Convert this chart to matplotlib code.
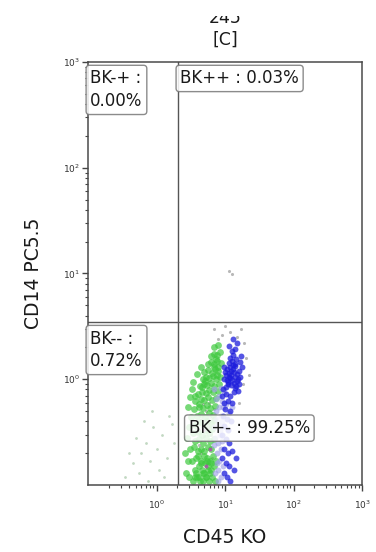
import numpy as np
import matplotlib
matplotlib.use('Agg')
import matplotlib.pyplot as plt
from matplotlib.ticker import LogLocator, NullFormatter
from matplotlib.patches import Rectangle

# titulo y ejes
TITULO = '245'
SUBTITULO = '[C]'
EJE_X = 'CD45 KO'
EJE_Y = 'CD14 PC5.5'
ticks = [1, 10, 100, 1000]
tick_labels = ['$10^{0}$', '$10^{1}$', '$10^{2}$', '$10^{3}$']

# limites de cuadrantes
corte_x = 2.05
corte_y = 3.5

# etiquetas de cuadrantes
etiquetas = ['BK-+ :\n0.00%', 'BK++ : 0.03%', 'BK-- :\n0.72%', 'BK+- : 99.25%']

# poblacion verde
green_x = [3.4, 3.9, 4.3, 4.8, 5.3, 5.9, 6.5, 7.1, 3.6, 4.1, 4.6, 5.1, 5.6, 6.2, 6.8,
           3.3, 3.8, 4.4, 4.9, 5.4, 6.0, 6.6, 7.3, 4.0, 4.5, 5.0, 5.7, 6.3, 3.5,
           3.7, 4.2, 4.8, 5.3, 6.0, 6.9, 3.4, 4.0, 4.6, 5.2, 5.8, 6.5,
           3.6, 4.3, 4.9, 5.5, 6.2, 7.0, 3.9, 4.5, 5.1, 5.8, 6.6,
           3.5, 4.2, 4.8, 5.4, 6.1, 7.2, 3.7, 4.4, 5.0, 5.7, 6.4, 7.5,
           4.0, 4.6, 5.2, 5.9, 6.7, 7.8, 4.3, 4.9, 5.5, 6.2, 7.0, 8.1,
           4.7, 5.3, 5.9, 6.6, 7.4, 8.4, 5.0, 5.7, 6.4, 7.1, 7.9,
           5.6, 6.3, 7.0, 7.7, 8.6, 6.2, 6.9, 7.6, 8.4, 7.0, 7.8,
           4.2, 5.0, 5.6, 4.5, 5.2, 3.8, 6.0, 4.7, 5.5, 3.6, 6.3, 4.0,
           2.7, 2.9, 3.1, 2.8, 3.0, 3.2, 2.6, 2.9, 3.1, 3.3, 3.0, 3.4,
           3.9, 4.4, 3.7, 4.1, 4.6, 5.1, 6.8, 7.4, 8.0, 7.6]
green_y = [0.11, 0.12, 0.11, 0.13, 0.12, 0.11, 0.12, 0.11, 0.14, 0.15, 0.14, 0.16, 0.15, 0.14, 0.15,
           0.17, 0.18, 0.17, 0.19, 0.18, 0.17, 0.19, 0.17, 0.21, 0.22, 0.21, 0.23, 0.22, 0.23,
           0.26, 0.27, 0.25, 0.28, 0.26, 0.27, 0.31, 0.32, 0.30, 0.33, 0.31, 0.34,
           0.37, 0.39, 0.36, 0.40, 0.38, 0.41, 0.45, 0.47, 0.44, 0.48, 0.46,
           0.52, 0.55, 0.53, 0.57, 0.54, 0.56, 0.62, 0.65, 0.63, 0.68, 0.64, 0.66,
           0.73, 0.76, 0.74, 0.79, 0.75, 0.78, 0.86, 0.90, 0.88, 0.93, 0.87, 0.91,
           1.00, 1.05, 1.02, 1.08, 1.00, 1.04, 1.18, 1.22, 1.15, 1.25, 1.20,
           1.38, 1.45, 1.40, 1.50, 1.42, 1.65, 1.75, 1.70, 1.80, 2.00, 2.10,
           0.12, 0.13, 0.14, 0.16, 0.12, 0.13, 0.13, 0.11, 0.17, 0.12, 0.16, 0.19,
           0.13, 0.17, 0.22, 0.28, 0.35, 0.44, 0.20, 0.55, 0.68, 0.80, 0.12, 0.95,
           1.12, 1.30, 0.70, 0.58, 0.84, 0.96, 1.30, 1.55, 1.30, 1.10]

# poblacion azul
blue_x = [10.2, 11.0, 12.1, 13.3, 14.5, 10.6, 11.7, 12.8, 14.0, 15.2, 10.3, 11.3, 12.4, 13.6, 14.8,
          10.8, 11.9, 13.0, 14.2, 11.4, 12.6, 13.8, 12.0, 13.2, 14.6, 9.5, 9.2, 9.8, 15.8, 16.5,
          12.5, 14.0, 11.5, 15.0, 13.0,
          9.0, 10.5, 12.0, 13.5, 9.6, 11.2, 12.8, 10.0, 11.8, 9.3, 10.8, 12.3, 9.7, 11.0,
          9.1, 10.4, 11.6, 9.5, 10.9, 12.5, 9.0, 10.2, 11.4, 9.6, 10.8, 12.0, 13.5, 14.5,
          16.8, 17.5, 16.0, 15.5, 17.0, 10.9, 12.2, 11.6, 13.1, 10.0, 14.1, 15.6]
blue_y = [0.85, 0.90, 0.88, 0.92, 0.86, 0.98, 1.02, 0.99, 1.05, 0.97, 1.10, 1.14, 1.10, 1.17, 1.12,
          1.25, 1.30, 1.24, 1.32, 1.42, 1.48, 1.40, 1.60, 1.68, 1.55, 1.00, 0.80, 1.30, 1.20, 1.45,
          1.85, 1.95, 2.05, 2.20, 2.40,
          0.70, 0.72, 0.70, 0.75, 0.60, 0.62, 0.60, 0.52, 0.50, 0.45, 0.42, 0.40, 0.36, 0.33,
          0.30, 0.27, 0.25, 0.22, 0.20, 0.21, 0.18, 0.16, 0.15, 0.13, 0.12, 0.11, 0.14, 0.18,
          1.05, 1.30, 0.90, 0.78, 1.65, 0.95, 1.20, 1.05, 1.35, 1.18, 0.82, 1.00]

# poblacion lavanda (mezcla)
lav_x = [7.5, 8.2, 8.8, 7.8, 8.5, 9.0, 7.2, 8.0, 8.7, 7.6, 8.3, 9.2, 7.9, 8.6,
         7.4, 8.1, 8.9, 9.4, 7.0, 8.6, 9.5, 6.8, 7.3, 6.9,
         8.0, 8.4, 7.7, 9.1, 7.1, 8.8, 10.5, 11.5, 12.5]
lav_y = [0.50, 0.55, 0.45, 0.38, 0.33, 0.40, 0.28, 0.25, 0.22, 0.20, 0.17, 0.15, 0.14, 0.12,
         0.65, 0.70, 0.62, 0.55, 0.80, 0.82, 0.75, 0.35, 0.42, 0.24,
         0.11, 0.30, 0.16, 0.26, 0.13, 0.36, 0.58, 0.48, 0.55]

# puntos grises
gray_x = [4.1, 5.0, 5.6, 4.4, 6.0, 5.3, 4.7, 6.3, 3.8, 5.8, 6.8, 4.5, 5.5, 6.4,
          9.0, 12.0, 15.0, 17.0, 10.0, 19.0, 8.0, 20.0, 18.0, 22.0, 16.0, 7.0, 11.5, 12.5]
gray_y = [0.24, 0.29, 0.35, 0.42, 0.44, 0.50, 0.58, 0.30, 0.34, 0.60, 0.52, 0.20, 0.16, 0.18,
          2.6, 2.8, 2.5, 3.0, 3.2, 2.2, 2.4, 1.6, 0.9, 1.1, 0.6, 3.0, 10.5, 9.8]

purple_x = [5.2, 4.8, 6.1]
purple_y = [0.15, 0.33, 0.22]

# dispersos a la izquierda
left_x = [0.35, 0.45, 0.55, 0.6, 0.7, 0.5, 0.8, 0.9, 1.0, 1.2, 1.4, 0.65, 1.5, 1.1,
          1.8, 0.4, 0.75, 1.3, 1.7, 0.85]
left_y = [0.12, 0.16, 0.13, 0.20, 0.25, 0.28, 0.17, 0.35, 0.22, 0.30, 0.18, 0.40, 0.45, 0.14,
          0.25, 0.20, 0.11, 0.12, 0.38, 0.50]

fig = plt.figure(figsize=(3.76, 5.52), dpi=100)
ax = fig.add_axes([0.234, 0.1214, 0.729, 0.7663])
ax.set_xscale('log')
ax.set_yscale('log')
ax.set_xlim(0.1, 1000)
ax.set_ylim(0.1, 1000)

ax.scatter(left_x, left_y, s=4, color='#a8c8a8', alpha=0.7, linewidths=0)
ax.scatter(gray_x, gray_y, s=5, color='#9a9a9a', alpha=0.7, linewidths=0)
ax.scatter(green_x, green_y, s=24, color='#3ec93e', alpha=0.7, linewidths=0)
ax.scatter(lav_x, lav_y, s=18, color='#9fa0e6', alpha=0.65, linewidths=0)
ax.scatter(blue_x, blue_y, s=18, color='#1c1cdc', alpha=0.75, linewidths=0)
ax.scatter(purple_x, purple_y, s=8, color='#b04ab0', alpha=0.8, linewidths=0)

# cuadrantes
ax.axvline(corte_x, color='#555555', lw=1.0)
ax.axhline(corte_y, color='#555555', lw=1.0)

caja = dict(boxstyle='round,pad=0.25,rounding_size=0.2', facecolor='white',
            edgecolor='#777777', alpha=0.85, lw=1.0)
ax.text(0.108, 850, etiquetas[0], fontsize=12, color='#1a1a1a', va='top', ha='left',
        linespacing=1.35, bbox=caja)
ax.text(2.22, 850, etiquetas[1], fontsize=12, color='#1a1a1a', va='top', ha='left', bbox=caja)
ax.text(0.108, 2.95, etiquetas[2], fontsize=12, color='#1a1a1a', va='top', ha='left',
        linespacing=1.35, bbox=caja)
ax.text(2.95, 0.345, etiquetas[3], fontsize=12, color='#1a1a1a', va='center', ha='left', bbox=caja)

ax.set_xticks(ticks)
ax.set_xticklabels(tick_labels)
ax.set_yticks(ticks)
ax.set_yticklabels(tick_labels)
ax.xaxis.set_minor_locator(LogLocator(base=10, subs=np.arange(2, 10), numticks=20))
ax.yaxis.set_minor_locator(LogLocator(base=10, subs=np.arange(2, 10), numticks=20))
ax.xaxis.set_minor_formatter(NullFormatter())
ax.yaxis.set_minor_formatter(NullFormatter())
ax.tick_params(which='major', direction='out', length=4, width=1, color='#444444',
               labelsize=6.5, labelcolor='#333333')
ax.tick_params(which='minor', direction='out', length=2.5, width=0.8, color='#444444')
ax.tick_params(axis='x', which='major', pad=6)
ax.tick_params(axis='y', which='major', pad=2)
for sp in ax.spines.values():
    sp.set_color('#4a4a4a')
    sp.set_linewidth(1.1)

fig.text(0.5985, 0.027, EJE_X, fontsize=13.5, color='#1a1a1a', ha='center', va='center')
fig.text(0.088, 0.504, EJE_Y, fontsize=13.5, color='#1a1a1a', ha='center', va='center',
         rotation=90)
fig.text(0.5985, 0.9665, TITULO, fontsize=12.5, color='#1a1a1a', ha='center', va='center')
fig.text(0.5985, 0.9275, SUBTITULO, fontsize=12.5, color='#1a1a1a', ha='center', va='center')
# la parte superior del titulo aparece cortada
fig.patches.append(Rectangle((0, 0.971), 1, 0.03, transform=fig.transFigure,
                             facecolor='white', edgecolor='none', zorder=10))

fig.savefig('out.png', dpi=100)
